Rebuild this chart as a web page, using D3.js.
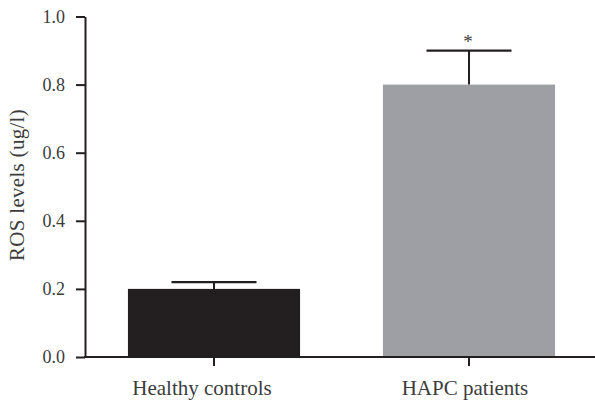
<!DOCTYPE html>
<html><head><meta charset="utf-8">
<script src="https://cdn.jsdelivr.net/npm/d3@7"></script>
<style>body{margin:0;background:#fff}</style>
</head><body>
<svg id="c" width="595" height="400"></svg>
<script>
const categories = ["Healthy controls", "HAPC patients"];
const values = [0.2, 0.8];
const errors = [0.02, 0.1];
const marks = ["", "*"];
const yTicks = [0.0, 0.2, 0.4, 0.6, 0.8, 1.0];
const barColors = ["#231f20", "#9d9fa5"];

const svg = d3.select("#c");
const font = "'Liberation Serif', 'DejaVu Serif', serif";
const txt = "#3c3c3c";
const ink = "#231f20";

const y = d3.scaleLinear().domain([0, 1]).range([357, 16.5]);
const x = d3.scaleBand().domain(categories).range([86.5, 596.5]).paddingInner(0.325).paddingOuter(0.1625);

const g = svg.append("g");
// bars
g.selectAll("rect.bar").data(categories).enter().append("rect")
  .attr("x", d => x(d)).attr("width", x.bandwidth())
  .attr("y", (d, i) => y(values[i])).attr("height", (d, i) => y(0) - y(values[i]))
  .attr("fill", (d, i) => barColors[i]);

// error bars
const capW = 85;
categories.forEach((c, i) => {
  const cx = x(c) + x.bandwidth() / 2;
  g.append("line").attr("x1", cx).attr("x2", cx).attr("y1", y(values[i])).attr("y2", y(values[i] + errors[i]))
    .attr("stroke", ink).attr("stroke-width", 2);
  g.append("line").attr("x1", cx - capW / 2).attr("x2", cx + capW / 2)
    .attr("y1", y(values[i] + errors[i])).attr("y2", y(values[i] + errors[i]))
    .attr("stroke", ink).attr("stroke-width", 2.2);
  if (marks[i]) {
    g.append("text").attr("x", cx - 1).attr("y", y(values[i] + errors[i]) - 3)
      .attr("text-anchor", "middle").attr("font-family", font).attr("font-size", 19)
      .attr("fill", txt).text(marks[i]);
  }
});

// y axis
const ya = svg.append("g").attr("transform", "translate(85,0)")
  .call(d3.axisLeft(y).tickValues(yTicks).tickFormat(d3.format(".1f")).tickSize(9).tickSizeOuter(0));
ya.select(".domain").attr("stroke", ink).attr("stroke-width", 2);
ya.selectAll(".tick line").attr("stroke", ink).attr("stroke-width", 2);
ya.selectAll(".tick text").attr("font-family", font).attr("font-size", 18).attr("fill", txt).attr("x", -20);

// x axis
const labelShift = [-12, -4];
const xa = svg.append("g").attr("transform", "translate(0,357)")
  .call(d3.axisBottom(x).tickSize(9).tickSizeOuter(0));
xa.select(".domain").attr("stroke", ink).attr("stroke-width", 2).attr("d", "M84,0H595");
xa.selectAll(".tick line").attr("stroke", ink).attr("stroke-width", 2);
xa.selectAll(".tick text").attr("font-family", font).attr("font-size", 21).attr("fill", txt)
  .attr("y", 23).attr("dx", (d, i) => labelShift[i]);

// y label
svg.append("text").attr("transform", "translate(24,185) rotate(-90)")
  .attr("text-anchor", "middle").attr("font-family", font).attr("font-size", 21)
  .attr("letter-spacing", 0.3)
  .attr("fill", txt).text("ROS levels (ug/l)");
</script>
</body></html>
